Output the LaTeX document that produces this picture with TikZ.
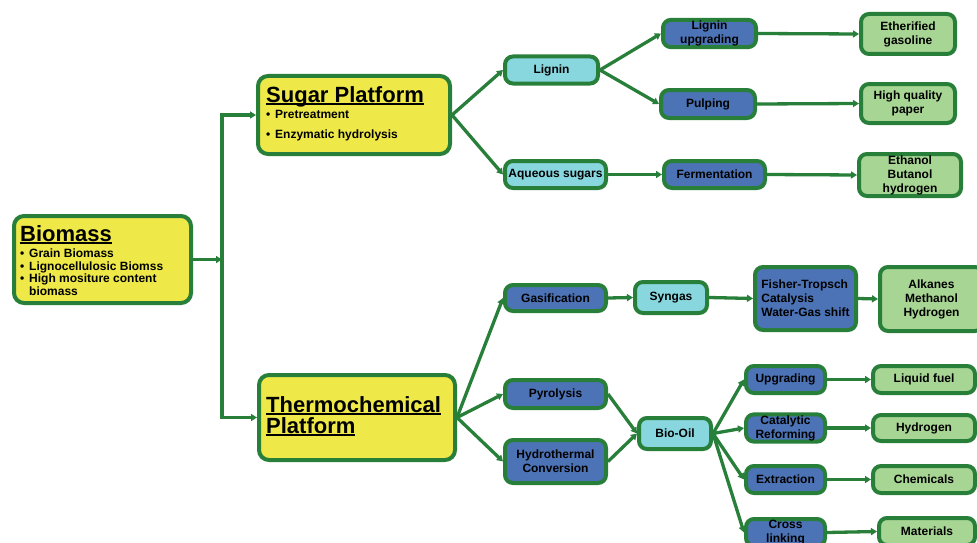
\documentclass[tikz,border=0pt]{standalone}
\usepackage{fontspec}
\setmainfont{Liberation Sans}
\usetikzlibrary{arrows.meta}
\definecolor{edgegreen}{RGB}{40,127,58}
\definecolor{platyellow}{RGB}{238,233,72}
\definecolor{boxcyan}{RGB}{136,215,223}
\definecolor{boxblue}{RGB}{76,115,182}
\definecolor{boxgreen}{RGB}{167,213,147}
\newcommand\ultitle[1]{\setbox0=\hbox{#1}\rlap{\rule[-3.2pt]{\wd0}{1.8pt}}\box0}
\newcommand\bul{\makebox[9pt][l]{\textbullet}}
\begin{document}
\begin{tikzpicture}[x=1pt,y=-1pt,
  box/.style={draw=edgegreen,line width=4pt,rounded corners=8pt,align=center,
    font=\fontsize{12}{14}\selectfont\bfseries,inner sep=1pt,text=black},
  cbox/.style={box,fill=boxcyan},
  bbox/.style={box,fill=boxblue},
  gbox/.style={box,fill=boxgreen},
  plat/.style={draw=edgegreen,line width=4pt,rounded corners=10pt,fill=platyellow,inner sep=0pt},
  ttl/.style={inner sep=0pt,anchor=base west,font=\fontsize{22}{24}\selectfont\bfseries},
  btxt/.style={inner sep=0pt,anchor=base west,font=\fontsize{12}{14}\selectfont\bfseries},
  conn/.style={draw=edgegreen,line width=3.3pt,-{Triangle[length=6pt,width=7pt]}},
  plain/.style={draw=edgegreen,line width=3.3pt,line cap=rect}
]
\useasboundingbox (0,0) rectangle (977,543);

% platforms
\node[plat,minimum width=177pt,minimum height=87pt] (bio) at (102.5,259.5) {};
\node[plat,minimum width=192pt,minimum height=78pt] (sugar) at (354,115) {};
\node[plat,minimum width=196pt,minimum height=85pt] (thermo) at (357,417.5) {};

\node[ttl] (biot) at (20,241) {\ultitle{Biomass}};
\node[btxt] (biob1) at (20,257) {\bul Grain Biomass};
\node[btxt] (biob2) at (20,270) {\bul Lignocellulosic Biomss};
\node[btxt] (biob3) at (20,282) {\bul High mositure content};
\node[btxt] (biob4) at (29,295) {biomass};

\node[ttl] (sugart) at (266,102) {\ultitle{Sugar Platform}};
\node[btxt] (sugarb1) at (266,118) {\bul Pretreatment};
\node[btxt] (sugarb2) at (266,138) {\bul Enzymatic hydrolysis};

\node[ttl] (thermot1) at (266,412) {\ultitle{Thermochemical}};
\node[ttl] (thermot2) at (266,433) {\ultitle{Platform}};

% sugar branch
\node[cbox,minimum width=93pt,minimum height=27pt] (lignin) at (551.5,70) {Lignin};
\node[bbox,minimum width=93pt,minimum height=27pt] (lup) at (709.5,33.5) {Lignin\\upgrading};
\node[bbox,minimum width=94pt,minimum height=28pt] (pulp) at (708,104) {Pulping};
\node[cbox,minimum width=101pt,minimum height=27pt] (aq) at (555.5,174.5) {Aqueous sugars};
\node[bbox,minimum width=101pt,minimum height=27pt] (ferm) at (714.5,174.5) {Fermentation};
\node[gbox,minimum width=94pt,minimum height=40pt] (eth) at (908,34) {Etherified\\gasoline};
\node[gbox,minimum width=94pt,minimum height=39pt] (paper) at (908,103.5) {High quality\\paper};
\node[gbox,minimum width=102pt,minimum height=42pt] (ethanol) at (910,175) {Ethanol\\Butanol\\hydrogen};

% thermochemical branch
\node[bbox,minimum width=101pt,minimum height=26pt] (gas) at (555.5,298) {Gasification};
\node[cbox,minimum width=72pt,minimum height=31pt] (syn) at (671,297.5) {Syngas};
\node[bbox,minimum width=101pt,minimum height=63pt,align=left] (ft) at (805.5,298.5) {Fisher-Tropsch\\Catalysis\\Water-Gas shift};
\node[gbox,minimum width=103pt,minimum height=64pt] (alk) at (931.5,299) {Alkanes\\Methanol\\Hydrogen};
\node[bbox,minimum width=101pt,minimum height=28pt] (pyro) at (555.5,394) {Pyrolysis};
\node[bbox,minimum width=101pt,minimum height=43pt] (hydro) at (555.5,461.5) {Hydrothermal\\Conversion};
\node[cbox,minimum width=72pt,minimum height=31pt] (biooil) at (675,433.5) {Bio-Oil};
\node[bbox,minimum width=79pt,minimum height=27pt] (upg) at (785.5,379.5) {Upgrading};
\node[bbox,minimum width=79pt,minimum height=26pt] (cat) at (785.5,428) {Catalytic\\Reforming};
\node[bbox,minimum width=79pt,minimum height=27pt] (ext) at (785.5,479.5) {Extraction};
\node[bbox,minimum width=79pt,minimum height=27pt] (cross) at (785.5,532.5) {Cross\\linking};
\node[gbox,minimum width=102pt,minimum height=27pt] (liq) at (924,379.5) {Liquid fuel};
\node[gbox,minimum width=102pt,minimum height=26pt] (hyd) at (924,428) {Hydrogen};
\node[gbox,minimum width=102pt,minimum height=27pt] (chem) at (924,479.5) {Chemicals};
\node[gbox,minimum width=96pt,minimum height=27pt] (mat) at (927,531.5) {Materials};

% trunk
\coordinate (jm) at (222,259.5);
\coordinate (jt) at (222,115);
\coordinate (jb) at (222,417.5);
\draw[plain] (jt) -- (jb);
\draw[conn] (bio.east) -- (jm);
\draw[conn] (jt) -- (sugar.west);
\draw[conn] (jb) -- (thermo.west);

% sugar connectors
\draw[conn] (sugar.east) -- (lignin.west);
\draw[conn] (sugar.east) -- (aq.west);
\draw[conn] (lignin.east) -- (lup.west);
\draw[conn] (lignin.east) -- (pulp.west);
\draw[conn] (lup.east) -- (eth.west);
\draw[conn] (pulp.east) -- (paper.west);
\draw[conn] (aq.east) -- (ferm.west);
\draw[conn] (ferm.east) -- (ethanol.west);

% thermo connectors
\draw[conn] (thermo.east) -- (gas.west);
\draw[conn] (thermo.east) -- (pyro.west);
\draw[conn] (thermo.east) -- (hydro.west);
\draw[conn] (gas.east) -- (syn.west);
\draw[conn] (syn.east) -- (ft.west);
\draw[conn] (ft.east) -- (alk.west);
\draw[conn] (pyro.east) -- (biooil.west);
\draw[conn] (hydro.east) -- (biooil.west);
\draw[conn] (biooil.east) -- (upg.west);
\draw[conn] (biooil.east) -- (cat.west);
\draw[conn] (biooil.east) -- (ext.west);
\draw[conn] (biooil.east) -- (cross.west);
\draw[conn] (upg.east) -- (liq.west);
\draw[conn] (cat.east) -- (hyd.west);
\draw[conn] (ext.east) -- (chem.west);
\draw[conn] (cross.east) -- (mat.west);
\end{tikzpicture}
\end{document}
